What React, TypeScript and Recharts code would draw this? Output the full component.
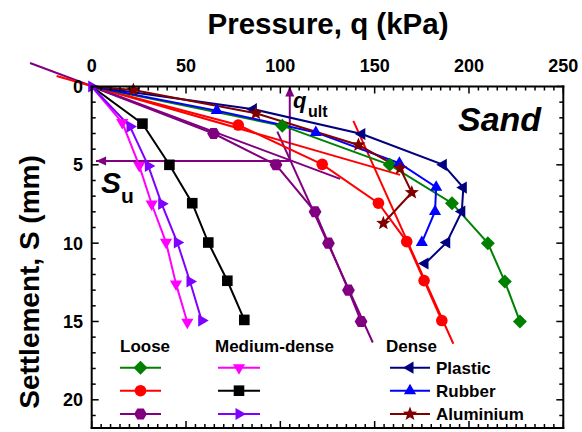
import React from 'react';
import { LineChart, Line, XAxis, YAxis, ReferenceLine } from 'recharts';

// axis range and tick values
const qDomain = [0, 250];
const sDomain = [0, 21.8];
const qMajorTicks = [0, 50, 100, 150, 200, 250];
const qMinorTicks = Array.from({ length: 51 }, (_, i) => i * 5);
const sMajorTicks = [0, 5, 10, 15, 20];
const sMinorTicks = Array.from({ length: 22 }, (_, i) => i);

// Loose
const looseGreenQ = [0, 101, 158, 191, 210, 219, 227];
const looseGreenS = [0, 2.5, 5, 7.45, 10, 12.45, 15];
const looseRedQ = [0, 77.7, 122.2, 152, 167, 176.2, 185.6];
const looseRedS = [0, 2.46, 4.97, 7.45, 9.9, 12.39, 14.94];
const loosePurpleQ = [0, 64.6, 97.7, 118.4, 125.5, 136.1, 142.8];
const loosePurpleS = [0, 3, 5, 8, 10, 13, 15];

// Medium-dense
const medMagentaQ = [0, 16.2, 25.2, 31.8, 39.4, 44.7, 50.7];
const medMagentaS = [0, 2.3, 5.05, 7.5, 9.95, 12.6, 15.05];
const medBlackQ = [0, 26.9, 41.2, 53.3, 61.8, 71.9, 80.9];
const medBlackS = [0, 2.37, 5, 7.45, 9.96, 12.4, 14.9];
const medVioletQ = [0, 20.3, 30, 37.1, 45.4, 52.1, 58.3];
const medVioletS = [0, 2.56, 5.07, 7.49, 9.96, 12.45, 14.94];

// Dense
const plasticQ = [0, 85.7, 143.2, 186.4, 197, 196.2, 188.2, 176.7];
const plasticS = [0, 1.45, 3.03, 5, 6.45, 7.98, 9.96, 11.3];
const rubberQ = [0, 66.3, 118.8, 163.1, 182.6, 182, 175];
const rubberS = [0, 1.54, 2.93, 4.9, 6.43, 7.98, 9.96];
const aluminiumQ = [0, 22.1, 87, 141.4, 163.5, 169.7, 154.6];
const aluminiumS = [0, 0.22, 1.71, 3.73, 5.22, 6.77, 8.73];

// tangent construction lines (x = q, y = S)
const purpleInitial = [{ x: -32.7, y: -1.5 }, { x: 131.7, y: 5.9 }];
const purpleFinal = [{ x: 98.4, y: 2.88 }, { x: 149, y: 16.34 }];
const redInitial = [{ x: -18.6, y: -0.67 }, { x: 163.5, y: 5.64 }];
const redFinal = [{ x: 138.7, y: 2.2 }, { x: 191.7, y: 16.42 }];
const qUlt = 105;
const sU = 4.75;

const FONT = '"Liberation Sans", Arial, sans-serif';

// chart layout
const W = 582;
const H = 432;
const margin = { top: 56.5, left: 51.7, right: 18.7, bottom: 4 };
const xAxisHeight = 30;
const yAxisWidth = 40;
const plotL = margin.left + yAxisWidth;
const plotT = margin.top + xAxisHeight;
const plotR = W - margin.right;
const plotB = H - margin.bottom;

const zip = (q: number[], s: number[]) => q.map((v, i) => ({ q: v, S: s[i] }));

type Shape = 'diamond' | 'circle' | 'hexagon' | 'triDown' | 'square' | 'triRight' | 'triLeft' | 'triUp' | 'star';

const series: { name: string; color: string; shape: Shape; originDot?: boolean; data: { q: number; S: number }[] }[] = [
  { name: 'med-magenta', color: '#FF00FF', shape: 'triDown', data: zip(medMagentaQ, medMagentaS) },
  { name: 'med-black', color: '#000000', shape: 'square', data: zip(medBlackQ, medBlackS) },
  { name: 'loose-purple', color: '#800080', shape: 'hexagon', data: zip(loosePurpleQ, loosePurpleS) },
  { name: 'loose-red', color: '#FF0000', shape: 'circle', data: zip(looseRedQ, looseRedS) },
  { name: 'loose-green', color: '#008000', shape: 'diamond', data: zip(looseGreenQ, looseGreenS) },
  { name: 'rubber', color: '#0000FF', shape: 'triUp', data: zip(rubberQ, rubberS) },
  { name: 'plastic', color: '#000080', shape: 'triLeft', data: zip(plasticQ, plasticS) },
  { name: 'aluminium', color: '#800000', shape: 'star', data: zip(aluminiumQ, aluminiumS) },
  { name: 'med-violet', color: '#8000FF', shape: 'triRight', originDot: true, data: zip(medVioletQ, medVioletS) },
];

const pts = (arr: number[][]) => arr.map((p) => p.join(',')).join(' ');

function Marker({ cx, cy, shape, color }: { cx: number; cy: number; shape: Shape; color: string }) {
  const R = 7;
  switch (shape) {
    case 'circle':
      return <circle cx={cx} cy={cy} r={5.8} fill={color} />;
    case 'square':
      return <rect x={cx - 5.3} y={cy - 5.3} width={10.6} height={10.6} fill={color} />;
    case 'diamond':
      return <polygon points={pts([[cx, cy - R], [cx + R, cy], [cx, cy + R], [cx - R, cy]])} fill={color} />;
    case 'hexagon': {
      const r = 6.4;
      const p = [0, 1, 2, 3, 4, 5].map((k) => [cx + r * Math.cos((k * Math.PI) / 3), cy + r * Math.sin((k * Math.PI) / 3)]);
      return <polygon points={pts(p)} fill={color} />;
    }
    case 'triUp':
      return <polygon points={pts([[cx, cy - R], [cx + R * 0.87, cy + R / 2], [cx - R * 0.87, cy + R / 2]])} fill={color} />;
    case 'triDown':
      return <polygon points={pts([[cx, cy + R], [cx + R * 0.87, cy - R / 2], [cx - R * 0.87, cy - R / 2]])} fill={color} />;
    case 'triRight':
      return <polygon points={pts([[cx + R, cy], [cx - R / 2, cy - R * 0.87], [cx - R / 2, cy + R * 0.87]])} fill={color} />;
    case 'triLeft':
      return <polygon points={pts([[cx - R, cy], [cx + R / 2, cy - R * 0.87], [cx + R / 2, cy + R * 0.87]])} fill={color} />;
    case 'star': {
      const p: number[][] = [];
      for (let k = 0; k < 10; k++) {
        const rr = k % 2 === 0 ? 7.5 : 3.2;
        const a = -Math.PI / 2 + (k * Math.PI) / 5;
        p.push([cx + rr * Math.cos(a), cy + rr * Math.sin(a)]);
      }
      return <polygon points={pts(p)} fill={color} />;
    }
  }
  return null;
}

const arrowShape = (dir: 'up' | 'left') => (props: any) => {
  const { x1, y1, x2, y2 } = props;
  const c = '#800080';
  const head =
    dir === 'up'
      ? [[x2, y2], [x2 - 4.5, y2 + 10], [x2 + 4.5, y2 + 10]]
      : [[x2, y2], [x2 + 10, y2 - 4.5], [x2 + 10, y2 + 4.5]];
  return (
    <g>
      <line x1={x1} y1={y1} x2={x2} y2={y2} stroke={c} strokeWidth={2} />
      <polygon points={pts(head)} fill={c} />
    </g>
  );
};

// frame and inward ticks as filled rectangles [x, y, w, h]
const qx = (v: number) => plotL + ((plotR - plotL) * (v - qDomain[0])) / (qDomain[1] - qDomain[0]);
const sy = (v: number) => plotT + ((plotB - plotT) * (v - sDomain[0])) / (sDomain[1] - sDomain[0]);
const frameRects: number[][] = [];
qMinorTicks.forEach((v) => {
  const len = qMajorTicks.includes(v) ? 7 : 4;
  frameRects.push([qx(v) - 0.75, plotT, 1.5, len]);
  frameRects.push([qx(v) - 0.75, plotB - len, 1.5, len]);
});
sMinorTicks.forEach((v) => {
  const len = sMajorTicks.includes(v) ? 7 : 4;
  frameRects.push([plotL, sy(v) - 0.75, len, 1.5]);
  frameRects.push([plotR - len, sy(v) - 0.75, len, 1.5]);
});
frameRects.push([plotL - 1, plotT - 1, plotR - plotL + 2, 2]);
frameRects.push([plotL - 1, plotB - 1, plotR - plotL + 2, 2]);
frameRects.push([plotL - 1, plotT - 1, 2, plotB - plotT + 2]);
frameRects.push([plotR - 1, plotT - 1, 2, plotB - plotT + 2]);

const tickStyle = { fontSize: 18, fontWeight: 'bold' as const, fill: '#000', fontFamily: FONT };

const legendLoose: { color: string; shape: Shape }[] = [
  { color: '#008000', shape: 'diamond' },
  { color: '#FF0000', shape: 'circle' },
  { color: '#800080', shape: 'hexagon' },
];
const legendMedium: { color: string; shape: Shape }[] = [
  { color: '#FF00FF', shape: 'triDown' },
  { color: '#000000', shape: 'square' },
  { color: '#8000FF', shape: 'triRight' },
];
const legendDense: { color: string; shape: Shape; label: string }[] = [
  { color: '#000080', shape: 'triLeft', label: 'Plastic' },
  { color: '#0000FF', shape: 'triUp', label: 'Rubber' },
  { color: '#800000', shape: 'star', label: 'Aluminium' },
];
const legendRows = [367.7, 390.7, 414];

export default function App() {
  return (
    <div style={{ position: 'absolute', left: 0, top: 0, width: W, height: H, background: '#fff' }}>
      <div style={{ position: 'absolute', left: 0, top: 0 }}>
        <LineChart width={W} height={H} margin={margin}>
          <XAxis xAxisId="q" orientation="top" type="number" dataKey="q" domain={qDomain} ticks={qMajorTicks}
            height={xAxisHeight} tickLine={false} tickSize={6} tickMargin={8.5} axisLine={false} tick={tickStyle} />
          <YAxis yAxisId="S" orientation="left" type="number" dataKey="S" domain={sDomain} reversed ticks={sMajorTicks}
            width={yAxisWidth} tickLine={false} tickSize={6} tickMargin={2.7} axisLine={false} tick={tickStyle} />

          <ReferenceLine xAxisId="q" yAxisId="S" segment={purpleInitial} ifOverflow="visible" stroke="#800080" strokeWidth={2} />
          <ReferenceLine xAxisId="q" yAxisId="S" segment={purpleFinal} ifOverflow="visible" stroke="#800080" strokeWidth={2} />
          <ReferenceLine xAxisId="q" yAxisId="S" segment={redInitial} ifOverflow="visible" stroke="#FF0000" strokeWidth={2} />
          <ReferenceLine xAxisId="q" yAxisId="S" segment={redFinal} ifOverflow="visible" stroke="#FF0000" strokeWidth={2} />
          <ReferenceLine xAxisId="q" yAxisId="S" segment={[{ x: qUlt, y: sU }, { x: qUlt, y: 0 }]} ifOverflow="visible"
            shape={arrowShape('up')} />
          <ReferenceLine xAxisId="q" yAxisId="S" segment={[{ x: qUlt, y: sU }, { x: 2.3, y: sU }]} ifOverflow="visible"
            shape={arrowShape('left')} />

          {series.map((s) => (
            <Line key={s.name} xAxisId="q" yAxisId="S" data={s.data} dataKey="S" type="linear" stroke={s.color}
              strokeWidth={2} isAnimationActive={false} legendType="none"
              dot={(p: any) =>
                p.index === 0 && !s.originDot ? <g key={`${s.name}-${p.index}`} /> :
                <Marker key={`${s.name}-${p.index}`} cx={p.cx} cy={p.cy} shape={s.shape} color={s.color} />
              }
              activeDot={false} />
          ))}
        </LineChart>
      </div>
      <svg width={W} height={H} style={{ position: 'absolute', left: 0, top: 0, pointerEvents: 'none' }}
        fontFamily={FONT} fontWeight="bold">
        {frameRects.map((f, i) => (
          <rect key={`f${i}`} x={f[0]} y={f[1]} width={f[2]} height={f[3]} fill="#000000" />
        ))}
        <text x={328} y={34} fontSize={29.5} textAnchor="middle">Pressure, q (kPa)</text>
        <text transform="translate(39,282) rotate(-90)" fontSize={28} textAnchor="middle">Settlement, S (mm)</text>
        <text x={458} y={131} fontSize={34} fontStyle="italic">Sand</text>
        <text x={293} y={108} fontSize={22} fontStyle="italic">q</text>
        <text x={308} y={116.5} fontSize={16}>ult</text>
        <text x={101} y={193} fontSize={30} fontStyle="italic">S</text>
        <text x={121} y={203} fontSize={21}>u</text>

        <text x={120} y={351.5} fontSize={17}>Loose</text>
        <text x={215} y={351.5} fontSize={17}>Medium-dense</text>
        <text x={386} y={351.5} fontSize={17}>Dense</text>
        {legendLoose.map((l, i) => (
          <g key={`lo${i}`}>
            <line x1={120} x2={161} y1={legendRows[i]} y2={legendRows[i]} stroke={l.color} strokeWidth={2} />
            <Marker cx={140.5} cy={legendRows[i]} shape={l.shape} color={l.color} />
          </g>
        ))}
        {legendMedium.map((l, i) => (
          <g key={`me${i}`}>
            <line x1={218} x2={260} y1={legendRows[i]} y2={legendRows[i]} stroke={l.color} strokeWidth={2} />
            <Marker cx={239} cy={legendRows[i]} shape={l.shape} color={l.color} />
          </g>
        ))}
        {legendDense.map((l, i) => (
          <g key={`de${i}`}>
            <line x1={390} x2={430} y1={legendRows[i]} y2={legendRows[i]} stroke={l.color} strokeWidth={2} />
            <Marker cx={410} cy={legendRows[i]} shape={l.shape} color={l.color} />
            <text x={436} y={legendRows[i] + 6.3} fontSize={17}>{l.label}</text>
          </g>
        ))}
      </svg>
    </div>
  );
}
